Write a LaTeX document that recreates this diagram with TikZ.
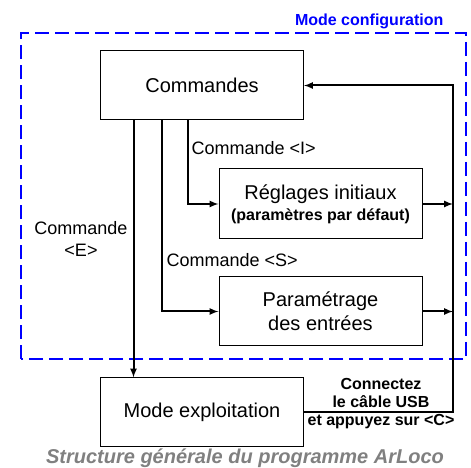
\documentclass[tikz,border=0pt]{standalone}
\usepackage{fontspec}
\setmainfont{Liberation Sans}
\usetikzlibrary{arrows,positioning,calc}

\begin{document}
\begin{tikzpicture}[x=1pt, y=1pt,
    bloc/.style={draw, line width=1pt, minimum width=203pt, minimum height=69pt, align=center, font=\fontsize{20}{24}\selectfont},
    fleche/.style={->, >=latex, line width=2pt},
    etiquette/.style={font=\fontsize{18}{22}\selectfont},
    note/.style={font=\fontsize{16}{18}\selectfont\bfseries, align=center},
    zone/.style={draw=blue, line width=2pt, dash pattern=on 14pt off 6pt}
]
\useasboundingbox (0,0) rectangle (471,468);

% Cadre du mode configuration
\draw[zone] (21,109) rectangle (466,435);
\node[note, text=blue, anchor=east] (titre) at (447,447) {Mode configuration};

% Blocs
\node[bloc] (cmd) at (202,382.5) {Commandes};
\node[bloc, minimum height=70pt] (regl) at (320.5,264) {R\'eglages initiaux\\[-3pt]{\fontsize{16}{18}\selectfont\bfseries (param\`etres par d\'efaut)}};
\node[bloc] (param) at (320.5,156.5) {Param\'etrage\\des entr\'ees};
\node[bloc] (expl) at (202,55.5) {Mode exploitation};

% Liaisons depuis les commandes
\draw[fleche] ([xshift=33.5pt]cmd.south west) -- ([xshift=33.5pt]cmd.south west |- expl.north);
\draw[fleche] ([xshift=61.5pt]cmd.south west) |- (param.west);
\draw[fleche] ([xshift=88pt]cmd.south west) |- (regl.west);

% Retour vers les commandes
\coordinate (retour) at (453,0);
\draw[fleche] (regl.east) -- (regl.east -| retour);
\draw[fleche] (param.east) -- (param.east -| retour);
\draw[fleche] (expl.east) -- (expl.east -| retour) |- (cmd.east);

% Labels
\node[etiquette, anchor=west] (cmdI) at (188,320) {Commande <I>};
\node[etiquette, anchor=west] (cmdS) at (163,208) {Commande <S>};
\node[etiquette, align=center] (cmdE) at (81,229) {Commande\\<E>};
\node[note] (usb) at (381,64) {Connectez\\le c\^able USB\\et appuyez sur <C>};

\node[font=\fontsize{20}{24}\selectfont\bfseries\itshape, text=gray] (legende) at (245,10) {Structure g\'en\'erale du programme ArLoco};

\end{tikzpicture}
\end{document}
